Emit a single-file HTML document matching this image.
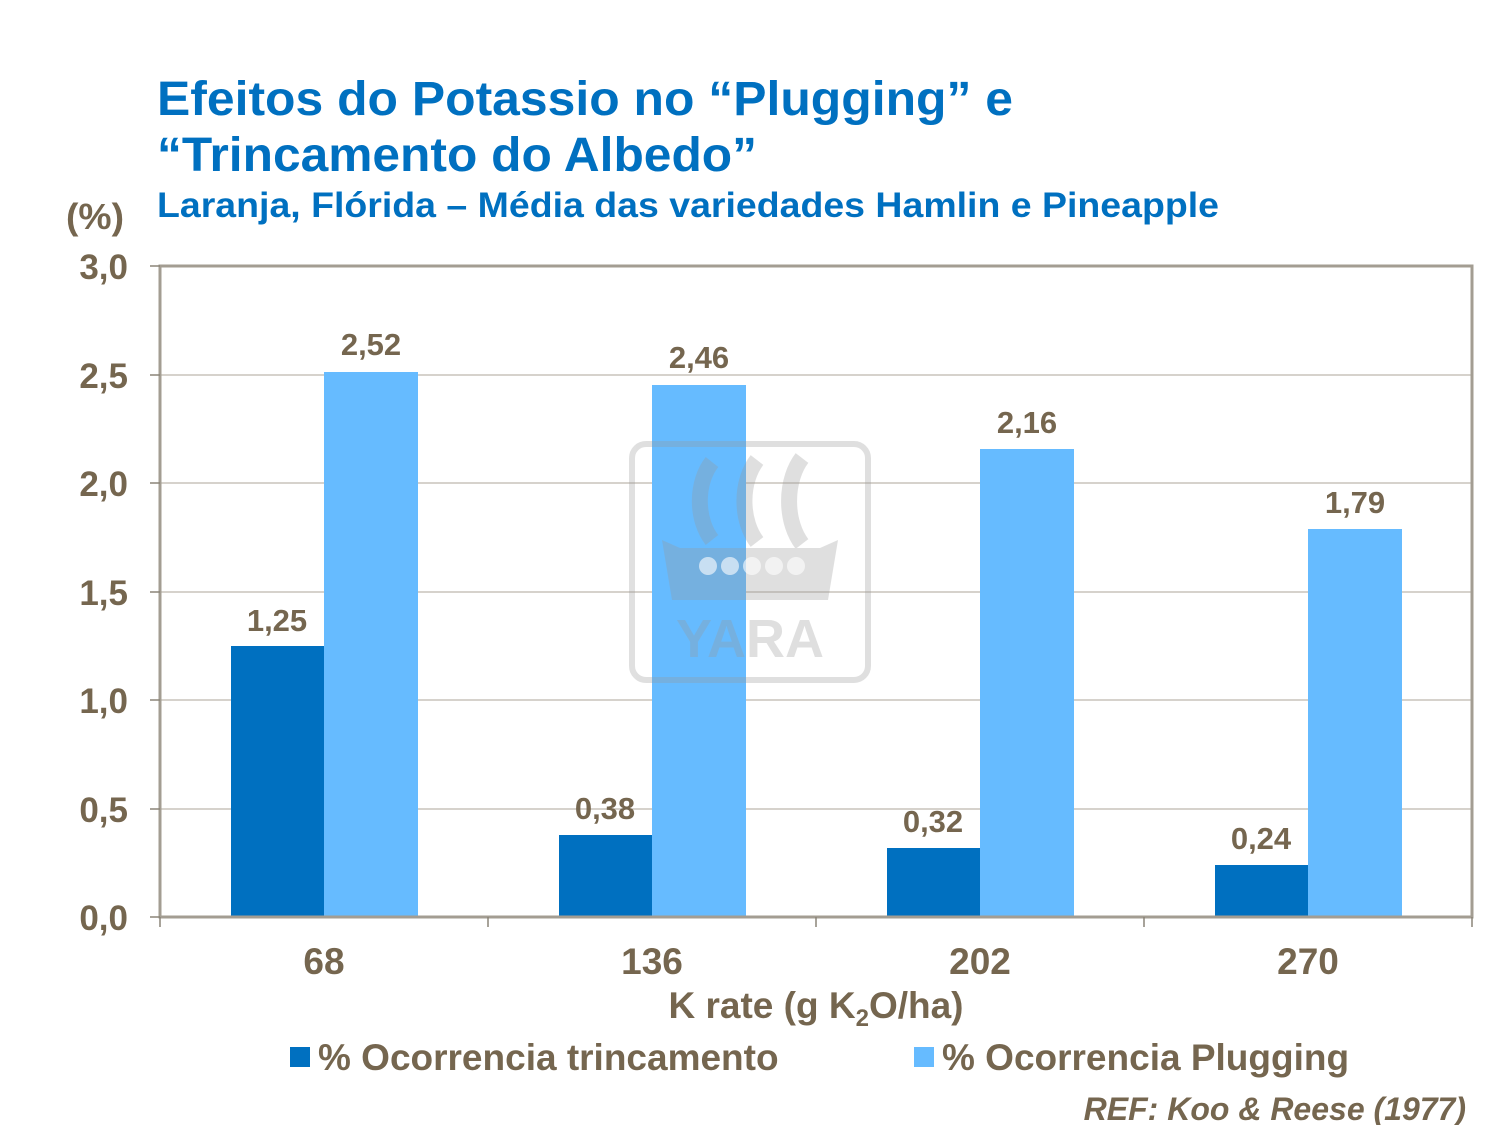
<!DOCTYPE html>
<html><head><meta charset="utf-8"><style>
body{margin:0;background:#fff;}
svg{display:block;font-family:"Liberation Sans",Arial,sans-serif;}
</style></head><body>
<svg width="1500" height="1125" viewBox="0 0 1500 1125">
<text x="157" y="115" font-size="48" font-weight="bold" fill="#0070c0" textLength="856" lengthAdjust="spacingAndGlyphs">Efeitos do Potassio no “Plugging” e</text>
<text x="157" y="171" font-size="48" font-weight="bold" fill="#0070c0" textLength="600" lengthAdjust="spacingAndGlyphs">“Trincamento do Albedo”</text>
<text x="157" y="217" font-size="35" font-weight="bold" fill="#0070c0" textLength="1062" lengthAdjust="spacingAndGlyphs">Laranja, Flórida – Média das variedades Hamlin e Pineapple</text>
<text x="66" y="229" font-size="36" font-weight="bold" fill="#75664f" textLength="58" lengthAdjust="spacingAndGlyphs">(%)</text>
<g stroke="#bdb7ad" stroke-width="1.2">
<line x1="160" y1="375" x2="1472" y2="375"/>
<line x1="160" y1="483" x2="1472" y2="483"/>
<line x1="160" y1="592" x2="1472" y2="592"/>
<line x1="160" y1="700" x2="1472" y2="700"/>
<line x1="160" y1="809" x2="1472" y2="809"/>
</g>
<g fill="#0070c0">
<rect x="231" y="646" width="93" height="271"/>
<rect x="559" y="835" width="93" height="82"/>
<rect x="887" y="848" width="93" height="69"/>
<rect x="1215" y="865" width="93" height="52"/>
</g>
<g fill="#66bbff">
<rect x="324" y="372" width="94" height="545"/>
<rect x="652" y="385" width="94" height="532"/>
<rect x="980" y="449" width="94" height="468"/>
<rect x="1308" y="529" width="94" height="388"/>
</g>
<!-- watermark on top -->
<g opacity="0.3" fill="#999" stroke="#999">
<rect x="632" y="444" width="236" height="236" rx="14" fill="none" stroke-width="6"/>
<path d="M712 462 a36 52 0 0 0 0 78" fill="none" stroke-width="16"/>
<path d="M757 460 a36 54 0 0 0 0 82" fill="none" stroke-width="16"/>
<path d="M802 458 a36 56 0 0 0 0 86" fill="none" stroke-width="16"/>
<path d="M662 540 L680 548 L820 548 L838 540 L828 600 L672 600 Z" stroke="none"/>
<text x="750" y="657" font-size="54" font-weight="bold" text-anchor="middle" stroke="none">YARA</text>
</g>
<g fill="#fff" opacity="0.6">
<circle cx="708" cy="566" r="9"/><circle cx="730" cy="566" r="9"/><circle cx="752" cy="566" r="9"/><circle cx="774" cy="566" r="9"/><circle cx="796" cy="566" r="9"/>
</g>
<rect x="160" y="266" width="1312" height="651" fill="none" stroke="#a39d92" stroke-width="3"/>
<g stroke="#8a8478" stroke-width="1.5">
<line x1="150" y1="266" x2="160" y2="266"/><line x1="150" y1="375" x2="160" y2="375"/>
<line x1="150" y1="483" x2="160" y2="483"/><line x1="150" y1="592" x2="160" y2="592"/>
<line x1="150" y1="700" x2="160" y2="700"/><line x1="150" y1="809" x2="160" y2="809"/>
<line x1="150" y1="917" x2="160" y2="917"/>
<line x1="160" y1="917" x2="160" y2="927"/><line x1="488" y1="917" x2="488" y2="927"/>
<line x1="816" y1="917" x2="816" y2="927"/><line x1="1144" y1="917" x2="1144" y2="927"/>
<line x1="1472" y1="917" x2="1472" y2="927"/>
</g>
<g font-size="35" font-weight="bold" fill="#75664f" text-anchor="end">
<text x="128" y="279">3,0</text><text x="128" y="388">2,5</text><text x="128" y="496">2,0</text>
<text x="128" y="605">1,5</text><text x="128" y="713">1,0</text><text x="128" y="822">0,5</text>
<text x="128" y="930">0,0</text>
</g>
<g font-size="31" font-weight="bold" fill="#75664f" text-anchor="middle">
<text x="277" y="631">1,25</text><text x="371" y="355">2,52</text>
<text x="605" y="819">0,38</text><text x="699" y="368">2,46</text>
<text x="933" y="832">0,32</text><text x="1027" y="433">2,16</text>
<text x="1261" y="849">0,24</text><text x="1355" y="513">1,79</text>
</g>
<g font-size="37" font-weight="bold" fill="#75664f" text-anchor="middle">
<text x="324" y="974">68</text><text x="652" y="974">136</text>
<text x="980" y="974">202</text><text x="1308" y="974">270</text>
<text x="816" y="1018">K rate (g K<tspan font-size="24" dy="8">2</tspan><tspan dy="-8">O/ha)</tspan></text>
</g>
<rect x="290" y="1047" width="20" height="20" fill="#0070c0"/>
<text x="318" y="1070" font-size="37" font-weight="bold" fill="#75664f">% Ocorrencia trincamento</text>
<rect x="914" y="1047" width="20" height="20" fill="#66bbff"/>
<text x="942" y="1070" font-size="37" font-weight="bold" fill="#75664f">% Ocorrencia Plugging</text>
<text x="1466" y="1120" font-size="32" font-weight="bold" font-style="italic" fill="#75664f" text-anchor="end">REF: Koo &amp; Reese (1977)</text>
</svg>
</body></html>
